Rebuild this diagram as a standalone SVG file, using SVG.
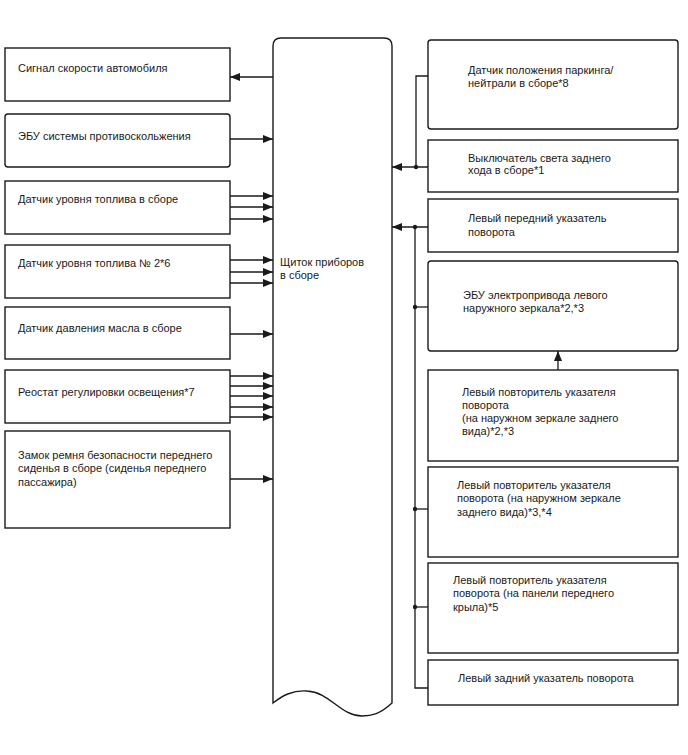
<svg xmlns="http://www.w3.org/2000/svg" width="688" height="755" viewBox="0 0 688 755">
<defs>
<style>
.b{fill:#fff;stroke:#1a1a1a;stroke-width:1.4}
.t{font-family:"Liberation Sans",Arial,sans-serif;font-size:11px;fill:#1a1a1a}
.c{fill:none;stroke:#1a1a1a;stroke-width:1.3}
</style>
<marker id="ah" viewBox="0 0 10 8" refX="10" refY="4" markerWidth="10" markerHeight="8" markerUnits="userSpaceOnUse" orient="auto">
<path d="M0,0 L10,4 L0,8 Z" fill="#1a1a1a"/>
</marker>
</defs>
<rect width="688" height="755" fill="#fff"/>

<g id="panel">
<path class="b" d="M273,703 L273,46 Q273,38 281,38 L384,38 Q392,38 392,46 L392,703 C380,714 372,716 362,716 C340,716 330,692 307,691 C292,690 282,696 273,703 Z"/>
<text class="t" x="280" y="266">Щиток приборов</text>
<text class="t" x="280" y="279">в сборе</text>
</g>

<g id="L1"><rect class="b" x="5" y="48" width="225" height="53"/><text class="t" x="18" y="72">Сигнал скорости автомобиля</text></g>
<g id="L2"><rect class="b" x="5" y="114" width="225" height="53" rx="3"/><text class="t" x="18" y="140">ЭБУ системы противоскольжения</text></g>
<g id="L3"><rect class="b" x="5" y="181" width="225" height="53"/><text class="t" x="18" y="203">Датчик уровня топлива в сборе</text></g>
<g id="L4"><rect class="b" x="5" y="245" width="225" height="53"/><text class="t" x="18" y="267">Датчик уровня топлива № 2*6</text></g>
<g id="L5"><rect class="b" x="5" y="307" width="225" height="52"/><text class="t" x="18" y="332">Датчик давления масла в сборе</text></g>
<g id="L6"><rect class="b" x="5" y="370" width="225" height="53"/><text class="t" x="18" y="396">Реостат регулировки освещения*7</text></g>
<g id="L7"><rect class="b" x="5" y="431" width="225" height="97"/>
<text class="t" x="18" y="459">Замок ремня безопасности переднего</text>
<text class="t" x="18" y="472">сиденья в сборе (сиденья переднего</text>
<text class="t" x="18" y="486">пассажира)</text></g>

<g id="R1"><rect class="b" x="428" y="40" width="250" height="89" rx="3"/><text class="t" x="468" y="74">Датчик положения паркинга/</text><text class="t" x="468" y="87">нейтрали в сборе*8</text></g>
<g id="R2"><rect class="b" x="428" y="140" width="250" height="52"/><text class="t" x="468" y="162">Выключатель света заднего</text><text class="t" x="468" y="174">хода в сборе*1</text></g>
<g id="R3"><rect class="b" x="428" y="199" width="250" height="53"/><text class="t" x="468" y="222">Левый передний указатель</text><text class="t" x="468" y="236">поворота</text></g>
<g id="R4"><rect class="b" x="428" y="261" width="250" height="90" rx="3"/><text class="t" x="463" y="299">ЭБУ электропривода левого</text><text class="t" x="463" y="312">наружного зеркала*2,*3</text></g>
<g id="R5"><rect class="b" x="428" y="370" width="250" height="91"/>
<text class="t" x="462" y="396">Левый повторитель указателя</text>
<text class="t" x="462" y="409">поворота</text>
<text class="t" x="462" y="422">(на наружном зеркале заднего</text>
<text class="t" x="462" y="435">вида)*2,*3</text></g>
<g id="R6"><rect class="b" x="428" y="467" width="250" height="90"/>
<text class="t" x="457" y="489">Левый повторитель указателя</text>
<text class="t" x="457" y="502">поворота (на наружном зеркале</text>
<text class="t" x="457" y="516">заднего вида)*3,*4</text></g>
<g id="R7"><rect class="b" x="428" y="563" width="250" height="90"/>
<text class="t" x="453" y="584">Левый повторитель указателя</text>
<text class="t" x="453" y="597">поворота (на панели переднего</text>
<text class="t" x="453" y="611">крыла)*5</text></g>
<g id="R8"><rect class="b" x="428" y="660" width="250" height="45"/><text class="t" x="458" y="682">Левый задний указатель поворота</text></g>

<g id="connectors">
<path class="c" d="M273,77 L230,77" marker-end="url(#ah)"/>
<path class="c" d="M230,139 L273,139" marker-end="url(#ah)"/>
<path class="c" d="M230,196 L273,196" marker-end="url(#ah)"/>
<path class="c" d="M230,207 L273,207" marker-end="url(#ah)"/>
<path class="c" d="M230,219 L273,219" marker-end="url(#ah)"/>
<path class="c" d="M230,260 L273,260" marker-end="url(#ah)"/>
<path class="c" d="M230,272 L273,272" marker-end="url(#ah)"/>
<path class="c" d="M230,283 L273,283" marker-end="url(#ah)"/>
<path class="c" d="M230,334 L273,334" marker-end="url(#ah)"/>
<path class="c" d="M230,376 L273,376" marker-end="url(#ah)"/>
<path class="c" d="M230,386 L273,386" marker-end="url(#ah)"/>
<path class="c" d="M230,396 L273,396" marker-end="url(#ah)"/>
<path class="c" d="M230,407 L273,407" marker-end="url(#ah)"/>
<path class="c" d="M230,417 L273,417" marker-end="url(#ah)"/>
<path class="c" d="M230,479 L273,479" marker-end="url(#ah)"/>

<path class="c" d="M428,76 L416,76 L416,167"/>
<path class="c" d="M428,167 L392,167" marker-end="url(#ah)"/>
<circle cx="416" cy="167" r="2.2" fill="#1a1a1a"/>

<path class="c" d="M428,227 L392,227" marker-end="url(#ah)"/>
<path class="c" d="M415,227 L415,688 L428,688"/>
<circle cx="415" cy="227" r="2.2" fill="#1a1a1a"/>
<path class="c" d="M415,307 L428,307"/>
<circle cx="415" cy="307" r="2.2" fill="#1a1a1a"/>
<path class="c" d="M415,509 L428,509"/>
<circle cx="415" cy="509" r="2.2" fill="#1a1a1a"/>
<path class="c" d="M415,607 L428,607"/>
<circle cx="415" cy="607" r="2.2" fill="#1a1a1a"/>

<path class="c" d="M558,370 L558,351" marker-end="url(#ah)"/>
</g>
</svg>
